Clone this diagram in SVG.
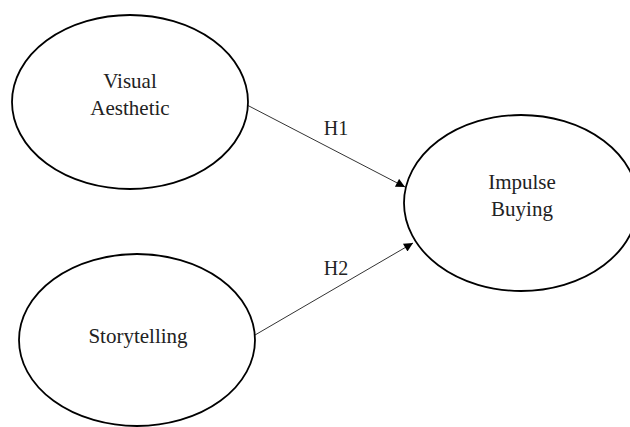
<svg xmlns="http://www.w3.org/2000/svg" width="630" height="427" viewBox="0 0 630 427">
<style>
.node{fill:#fff;stroke:#000;stroke-width:1.8}
.lbl{font-family:'Liberation Serif','Times New Roman',serif;font-size:21px;fill:#222;text-anchor:middle}
.edge{stroke:#333;stroke-width:1;fill:none}
.elbl{font-family:'Liberation Serif','Times New Roman',serif;font-size:20px;fill:#222;text-anchor:middle}
</style>
<defs>
<marker id="arr" viewBox="0 0 10 10" refX="10" refY="5" markerWidth="11" markerHeight="9" markerUnits="userSpaceOnUse" orient="auto">
<path d="M0,0 L10,5 L0,10 Z" fill="#000"/>
</marker>
</defs>
<rect width="630" height="427" fill="#fff"/>
<g id="connectors">
<line class="edge" x1="247" y1="105" x2="405" y2="187" marker-end="url(#arr)"/>
<line class="edge" x1="255" y1="335" x2="413" y2="243" marker-end="url(#arr)"/>
<text class="elbl" x="336" y="135">H1</text>
<text class="elbl" x="336" y="275">H2</text>
</g>
<g id="visual-aesthetic">
<ellipse class="node" cx="130" cy="102" rx="118" ry="87"/>
<text class="lbl" x="130" y="88">Visual</text>
<text class="lbl" x="130" y="115">Aesthetic</text>
</g>
<g id="impulse-buying">
<ellipse class="node" cx="521" cy="203" rx="117" ry="88"/>
<text class="lbl" x="522" y="189">Impulse</text>
<text class="lbl" x="522" y="216">Buying</text>
</g>
<g id="storytelling">
<ellipse class="node" cx="137" cy="340" rx="118" ry="86"/>
<text class="lbl" x="138" y="343">Storytelling</text>
</g>
</svg>
